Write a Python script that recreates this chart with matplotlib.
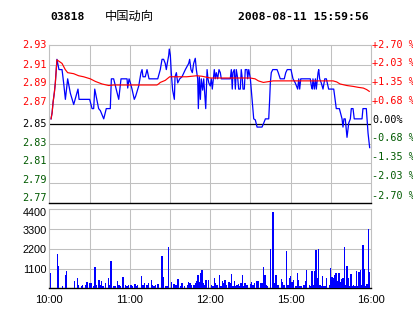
import matplotlib
matplotlib.use("Agg")
import matplotlib.pyplot as plt
import matplotlib.transforms as mtransforms

# ---------------- data ----------------
stock_code = "03818"
stock_name = "中国动向"
timestamp = "2008-08-11 15:59:56"
prev_close = 2.85

# minutes since 10:00 (lunch break removed: 12:30 -> 14:30)
price_min = [1.3, 2.1, 2.8, 3.8, 4.5, 5.2, 5.7, 7.2, 9.5, 10.7,
             12.0, 13.7, 15.7, 18.2, 21.4, 22.2, 30.1, 31.9, 33.1, 33.9,
             36.8, 38.1, 40.6, 42.5, 45.5, 46.3, 48.0, 51.8, 53.5, 58.0,
             58.5, 59.5, 60.5, 61.7, 63.4, 64.4, 66.7, 68.4, 69.2, 69.9,
             71.6, 72.9, 74.4, 80.9, 82.8, 84.1, 85.3, 86.5, 87.3, 88.0,
             89.1, 89.5, 90.3, 91.0, 92.0, 93.3, 93.8, 94.8, 95.8, 97.3,
             99.0, 101.5, 104.0, 104.7, 105.7, 106.7, 107.7, 108.9, 109.7, 110.7,
             111.2, 111.9, 112.7, 113.4, 114.4, 115.2, 116.7, 117.7, 118.4, 119.0,
             120.1, 120.9, 121.6, 123.1, 123.8, 124.6, 125.6, 126.6, 127.6, 128.3,
             135.0, 135.8, 136.5, 137.0, 138.0, 138.8, 139.5, 140.6, 141.3, 142.5,
             143.2, 144.0, 144.5, 145.5, 146.2, 147.5, 148.0, 148.8, 150.0, 150.7,
             151.2, 152.5, 153.7, 155.0, 158.7, 160.0, 161.2, 163.7, 164.4, 164.9,
             165.6, 166.7, 169.9, 170.8, 172.3, 175.3, 176.4, 177.5, 180.3, 181.8,
             183.5, 185.3, 186.1, 186.8, 187.6, 194.7, 195.5, 196.2, 196.7, 197.7,
             198.5, 199.2, 200.5, 201.0, 201.7, 202.9, 204.2, 205.5, 206.7, 208.4,
             212.2, 213.2, 214.1, 216.4, 218.4, 219.1, 219.8, 220.8, 222.1, 223.4,
             224.6, 225.3, 226.6, 227.5, 233.3, 234.0, 236.5, 237.8, 239.0]
price_val = [2.855, 2.861, 2.871, 2.881, 2.890, 2.903, 2.913, 2.903, 2.903, 2.890,
             2.874, 2.894, 2.880, 2.869, 2.884, 2.874, 2.874, 2.865, 2.865, 2.884,
             2.865, 2.863, 2.855, 2.865, 2.865, 2.894, 2.894, 2.874, 2.894, 2.894,
             2.885, 2.894, 2.890, 2.884, 2.874, 2.877, 2.887, 2.900, 2.903, 2.896,
             2.896, 2.903, 2.894, 2.894, 2.903, 2.913, 2.913, 2.909, 2.903, 2.909,
             2.917, 2.923, 2.917, 2.900, 2.883, 2.874, 2.896, 2.900, 2.890, 2.894,
             2.896, 2.903, 2.909, 2.913, 2.903, 2.900, 2.909, 2.914, 2.903, 2.894,
             2.865, 2.896, 2.874, 2.894, 2.883, 2.894, 2.865, 2.903, 2.894, 2.890,
             2.887, 2.894, 2.884, 2.903, 2.894, 2.900, 2.894, 2.903, 2.900, 2.894,
             2.894, 2.903, 2.884, 2.900, 2.903, 2.884, 2.903, 2.894, 2.884, 2.884,
             2.903, 2.894, 2.884, 2.884, 2.903, 2.903, 2.894, 2.903, 2.894, 2.883,
             2.874, 2.855, 2.854, 2.847, 2.847, 2.851, 2.855, 2.855, 2.874, 2.890,
             2.900, 2.903, 2.903, 2.900, 2.894, 2.894, 2.900, 2.903, 2.903, 2.894,
             2.890, 2.884, 2.894, 2.884, 2.894, 2.894, 2.887, 2.884, 2.894, 2.884,
             2.894, 2.884, 2.900, 2.903, 2.894, 2.890, 2.884, 2.894, 2.894, 2.884,
             2.884, 2.874, 2.865, 2.865, 2.855, 2.847, 2.855, 2.855, 2.837, 2.851,
             2.855, 2.865, 2.865, 2.855, 2.855, 2.865, 2.865, 2.841, 2.827]

avg_min = [1.3, 2.1, 2.8, 3.8, 4.5, 5.2, 5.7, 9.5, 11.9, 13.7,
           18.2, 21.9, 25.6, 30.6, 34.3, 39.3, 44.3, 48.0, 80.3, 81.5,
           82.8, 86.5, 89.8, 102.5, 110.0, 113.9, 120.2, 149.8, 153.5, 156.0,
           159.7, 164.6, 167.0, 211.7, 214.4, 216.9, 221.9, 226.8, 230.5, 234.3,
           236.8, 238.7]
avg_val = [2.855, 2.861, 2.871, 2.881, 2.890, 2.903, 2.9125, 2.909, 2.903, 2.900,
           2.899, 2.897, 2.896, 2.894, 2.8915, 2.889, 2.8875, 2.888, 2.888, 2.889,
           2.8905, 2.8925, 2.896, 2.896, 2.897, 2.8965, 2.8948, 2.8948, 2.894, 2.892,
           2.8905, 2.8915, 2.892, 2.892, 2.891, 2.889, 2.8875, 2.8866, 2.8857, 2.885,
           2.8835, 2.8818]

vol_min = [1, 6, 7, 10, 12, 13, 19, 21, 22, 24,
           25, 27, 28, 30, 31, 33, 34, 35, 37, 38,
           39, 40, 42, 44, 45, 46, 48, 49, 51, 52,
           53, 55, 57, 58, 59, 61, 62, 64, 65, 66,
           69, 70, 71, 73, 74, 76, 77, 78, 79, 81,
           84, 85, 87, 88, 89, 91, 93, 94, 95, 96,
           98, 99, 101, 103, 104, 105, 106, 108, 109, 110,
           111, 112, 113, 114, 115, 116, 117, 119, 121, 122,
           123, 124, 125, 127, 128, 129, 130, 131, 132, 134,
           135, 136, 137, 138, 139, 140, 141, 142, 143, 144,
           145, 146, 147, 148, 150, 151, 152, 153, 155, 156,
           158, 159, 160, 161, 162, 163, 165, 167, 168, 169,
           170, 171, 173, 174, 175, 177, 178, 179, 180, 181,
           182, 184, 185, 186, 187, 188, 190, 191, 192, 194,
           195, 196, 197, 198, 199, 200, 201, 202, 203, 204,
           205, 206, 207, 209, 210, 211, 212, 213, 214, 215,
           216, 217, 218, 219, 220, 221, 222, 223, 224, 225,
           226, 227, 228, 229, 230, 231, 232, 233, 234, 235,
           236, 237, 238, 239]
vol_val = [873, 1913, 1244, 130, 743, 966, 408, 557, 186, 130,
           186, 186, 371, 279, 316, 130, 1188, 186, 464, 186,
           408, 130, 279, 557, 186, 1523, 130, 130, 408, 186,
           130, 631, 186, 130, 186, 186, 130, 241, 130, 186,
           687, 186, 279, 186, 316, 464, 186, 130, 186, 241,
           1801, 631, 130, 130, 2303, 371, 241, 186, 186, 520,
           130, 316, 130, 186, 371, 279, 186, 186, 316, 427,
           743, 371, 836, 1021, 316, 186, 440, 464, 186, 130,
           557, 316, 186, 743, 130, 408, 279, 464, 186, 371,
           316, 798, 130, 408, 130, 186, 241, 130, 316, 743,
           130, 316, 186, 186, 241, 371, 186, 279, 408, 408,
           316, 316, 1188, 743, 186, 130, 2191, 4253, 316, 743,
           186, 186, 520, 371, 186, 2080, 186, 557, 687, 371,
           464, 130, 873, 464, 130, 130, 186, 408, 1021, 186,
           130, 966, 186, 966, 2136, 557, 2191, 186, 130, 687,
           130, 130, 557, 186, 1114, 650, 594, 743, 873, 408,
           873, 371, 520, 557, 2303, 186, 1244, 557, 130, 798,
           130, 186, 130, 966, 130, 929, 1021, 186, 2414, 1077,
           130, 241, 3305, 929]

pct_levels = [-2.70, -2.03, -1.35, -0.68, 0.00, 0.68, 1.35, 2.03, 2.70]
price_labels = ["2.77", "2.79", "2.81", "2.83", "2.85", "2.87", "2.89", "2.91", "2.93"]
pct_labels = ["-2.70 %", "-2.03 %", "-1.35 %", "-0.68 %", "0.00%", "+0.68 %", "+1.35 %", "+2.03 %", "+2.70 %"]
time_ticks = [0, 60, 120, 180, 240]
time_labels = ["10:00", "11:00", "12:00", "15:00", "16:00"]
vol_ticks = [1100, 2200, 3300, 4400]

# ---------------- style ----------------
W, H = 414, 314
RED = "#ff0000"
GREEN = "#005a00"
GRID = "#c0c0c0"
BLUE = "#0000ff"
MONO = "DejaVu Sans Mono"
SANS = "Liberation Sans"

# label vertical nudges in pixels (positive = down), bottom-to-top order
left_nudge = [-4.5, -3, -2.5, -0.5, 0.5, -2.5, -1, 0, 0]
right_nudge = [-7.3, -7.5, -6.2, -5.5, -4, -3.2, -2.2, -1.5, 0]
vol_nudge = [1, 1, 2.4, 3.4]

fig = plt.figure(figsize=(W / 100, H / 100), dpi=100)
fig.patch.set_facecolor("white")

def rect(l, t, r, b):
    return [l / W, 1 - b / H, (r - l) / W, (b - t) / H]

def px_shift(dx, dy):
    return mtransforms.ScaledTranslation(dx / 100, -dy / 100, fig.dpi_scale_trans)

ax = fig.add_axes(rect(49.3, 45, 371, 203))
axv = fig.add_axes(rect(49.3, 209.3, 371, 288.3))

step = 2.70 / 4
tick_pos = [prev_close * (1 + k * step / 100) for k in range(-4, 5)]
ylo, yhi = tick_pos[0], tick_pos[-1]

def level_color(p):
    return RED if p > 0 else ("black" if p == 0 else GREEN)

# ---- main panel ----
ax.set_xlim(0, 240)
ax.set_ylim(ylo, yhi)
for t in range(30, 240, 30):
    ax.axvline(t, color=GRID, lw=0.75, zorder=1)
for p in tick_pos[1:-1]:
    ax.axhline(p, color=GRID, lw=0.75, zorder=1)
ax.axhline(prev_close, color="black", lw=0.9, zorder=2)
ax.plot(price_min, price_val, color=BLUE, lw=0.9, zorder=3)
ax.plot(avg_min, avg_val, color=RED, lw=0.85, zorder=4)
for s in ["left", "right", "top"]:
    ax.spines[s].set_color(GRID)
    ax.spines[s].set_linewidth(0.8)
ax.spines["bottom"].set_color("black")
ax.spines["bottom"].set_linewidth(1.0)
ax.set_xticks([])
ax.set_yticks([])

ytrans = mtransforms.blended_transform_factory(ax.transAxes, ax.transData)
for p, lab, pct, dn in zip(tick_pos, price_labels, pct_levels, left_nudge):
    ax.text(0, p, lab, transform=ytrans + px_shift(-2.5, dn), ha="right", va="center",
            fontfamily=MONO, fontsize=7.3, color=level_color(pct), clip_on=False)
for p, lab, pct, dn in zip(tick_pos, pct_labels, pct_levels, right_nudge):
    ax.text(1, p, lab, transform=ytrans + px_shift(1.5, dn), ha="left", va="center",
            fontfamily=MONO, fontsize=7.3, color=level_color(pct), clip_on=False)

# ---- volume panel ----
axv.set_xlim(0, 240)
axv.set_ylim(0, 4400)
for t in range(30, 240, 30):
    axv.axvline(t, color=GRID, lw=0.75, zorder=1)
for v in vol_ticks[:-1]:
    axv.axhline(v, color=GRID, lw=0.75, zorder=1)
axv.bar(vol_min, vol_val, width=1.0, color=BLUE, linewidth=0, zorder=3, antialiased=False)
for s in ["left", "right", "top"]:
    axv.spines[s].set_color(GRID)
    axv.spines[s].set_linewidth(0.8)
axv.spines["bottom"].set_color("black")
axv.spines["bottom"].set_linewidth(1.0)
axv.set_yticks([])
vtrans = mtransforms.blended_transform_factory(axv.transAxes, axv.transData)
for v, dn in zip(vol_ticks, vol_nudge):
    axv.text(0, v, str(v), transform=vtrans + px_shift(-2.5, dn), ha="right", va="center",
             fontfamily=SANS, fontsize=7.8, color="black", clip_on=False)
axv.set_xticks(time_ticks)
axv.set_xticklabels(time_labels, fontfamily=SANS, fontsize=8)
axv.tick_params(axis="x", length=0, pad=4.5)

# ---- header ----
fig.text(50 / W, 1 - 17 / H, stock_code, fontfamily=MONO, fontweight="bold", fontsize=8.2,
         va="center", ha="left")
fig.text(105 / W, 1 - 16 / H, stock_name, fontfamily=["Noto Sans CJK SC", "DejaVu Sans"], fontsize=8.8,
         va="center", ha="left")
fig.text(238 / W, 1 - 17 / H, timestamp, fontfamily=MONO, fontweight="bold", fontsize=8.2,
         va="center", ha="left")

fig.savefig("out.png", dpi=100, facecolor="white")
